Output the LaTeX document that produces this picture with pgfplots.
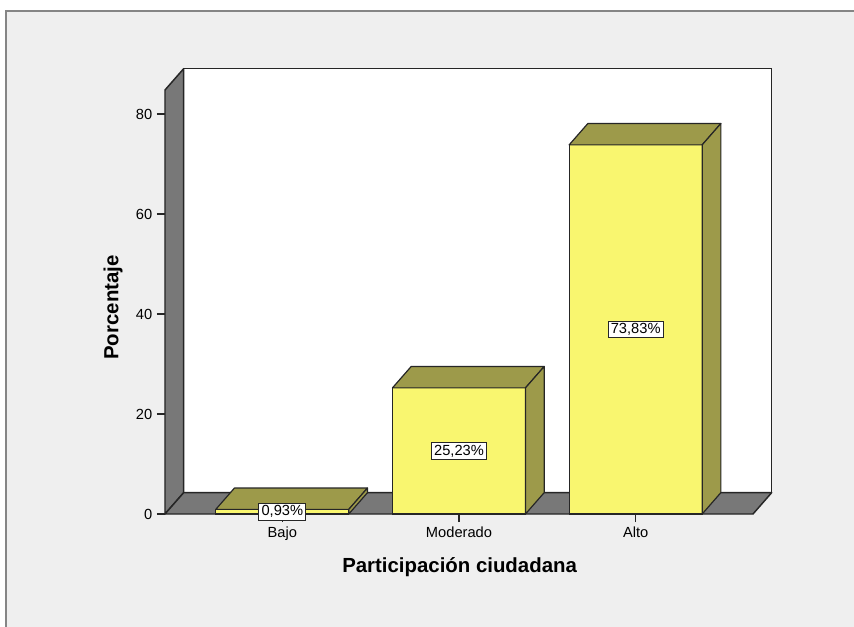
\documentclass[border=0pt]{standalone}
\usepackage{pgfplots}
\pgfplotsset{compat=1.18}
\usepackage{pgfplotstable}
\usepackage{fontspec}
\setmainfont{Liberation Sans}
\definecolor{bgGray}{HTML}{EFEFEF}
\definecolor{frameGray}{HTML}{858585}
\definecolor{wallGray}{HTML}{787878}
\definecolor{barYellow}{HTML}{F9F66F}
\definecolor{barOlive}{HTML}{9D9A4A}
\definecolor{edge}{HTML}{262626}
\pgfplotsset{/pgf/number format/assume math mode=true}

\pgfplotstableread{
x y
0 0.93
1 25.23
2 73.83
}\datatable

\begin{document}
\begin{tikzpicture}
\path[use as bounding box, fill=white] (-123.75pt,-84pt) rectangle (516.75pt,385.5pt);
\fill[bgGray] (-119.25pt,-90pt) rectangle (520pt,377.25pt);
\draw[frameGray, line width=1.5pt] (-119.25pt,-90pt) -- (-119.25pt,377.25pt) -- (520pt,377.25pt);
% back wall, left wall, floor
\filldraw[fill=white, draw=edge, line width=1.1pt] (14pt,16pt) rectangle (455pt,334pt);
\filldraw[fill=wallGray, draw=edge, line width=1.1pt, line join=round] (0,0) -- (0,318pt) -- (14pt,334pt) -- (14pt,16pt) -- cycle;
\filldraw[fill=wallGray, draw=edge, line width=1.1pt, line join=round] (0,0) -- (441pt,0) -- (455pt,16pt) -- (14pt,16pt) -- cycle;
\begin{axis}[
  at={(0,0)}, anchor=south west, scale only axis,
  width=441pt, height=318pt,
  xmin=-0.664, xmax=2.664, ymin=0, ymax=84.8,
  clip=false,
  axis line style={draw=none},
  xtick pos=bottom, ytick pos=left,
  tick align=outside, major tick length=6pt,
  tick style={edge, line width=0.8pt},
  xtick={0,1,2}, xticklabels={Bajo,Moderado,Alto},
  ytick={0,20,40,60,80},
  ticklabel style={font=\fontsize{11}{13}\selectfont},
  xlabel={Participación ciudadana}, ylabel={Porcentaje},
  label style={font=\bfseries\fontsize{15.3}{18}\selectfont},
  xlabel style={at={(axis description cs:0.501,-0.1368)}, anchor=base},
  ylabel style={at={(axis description cs:-0.0884,0.487)}, anchor=center},
]
% front faces
\addplot[ybar, bar width=99.75pt, fill=barYellow, draw=edge, line width=0.9pt] table[x=x, y=y] {\datatable};
% top and side faces of each bar
\addplot[only marks, mark=*, mark size=0pt, mark options={draw=none, fill=none}, scatter,
  visualization depends on={rawy \as \ry},
  scatter/@pre marker code/.code={%
    \pgfmathsetmacro\h{\ry*3.75}%
    \filldraw[fill=barOlive, draw=edge, line width=0.9pt, line join=round]
      (-49.875pt,0pt) -- (49.875pt,0pt) -- (63.875pt,16pt) -- (-35.875pt,16pt) -- cycle;
    \filldraw[fill=barOlive, draw=edge, line width=0.9pt, line join=round]
      (49.875pt,0pt) -- (63.875pt,16pt) -- (63.875pt,16pt-\h pt) -- (49.875pt,-\h pt) -- cycle;
  },
  scatter/@post marker code/.code={}
] table[x=x, y=y] {\datatable};
% value labels
\addplot[only marks, mark=none, point meta=\thisrow{y},
  nodes near coords={\pgfmathprintnumber[fixed,fixed zerofill,precision=2,use comma]{\pgfplotspointmeta}\%},
  every node near coord/.append style={anchor=center, fill=white, draw=edge, line width=0.7pt,
    inner xsep=2pt, inner ysep=1.8pt, font=\fontsize{11}{13}\selectfont, text=black}
] table[x=x, y expr=\thisrow{y}/2] {\datatable};
\end{axis}
\end{tikzpicture}
\end{document}
